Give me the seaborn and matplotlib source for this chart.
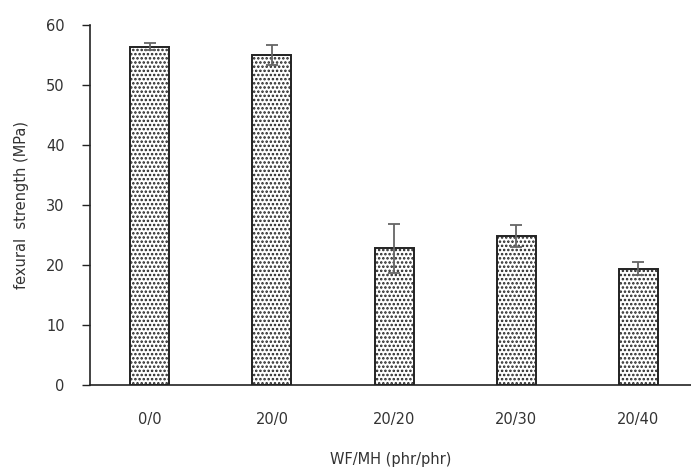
import matplotlib
matplotlib.use("Agg")
import matplotlib.pyplot as plt
import seaborn as sns
import pandas as pd

# data
ratios = ["0/0", "20/0", "20/20", "20/30", "20/40"]
strength = [56.4, 55.0, 22.8, 24.8, 19.4]
strength_err = [0.6, 1.6, 4.1, 1.8, 1.1]

df = pd.DataFrame({"ratio": ratios, "strength": strength})

sns.set_style("white")
plt.rcParams["font.family"] = ["DejaVu Sans"]
plt.rcParams["hatch.color"] = "#333333"
plt.rcParams["hatch.linewidth"] = 1.2

fig = plt.figure(figsize=(6.91, 4.72), dpi=100)
ax = fig.add_axes([0.130, 0.184, 0.870, 0.763])

sns.barplot(data=df, x="ratio", y="strength", color="white", width=0.32,
            edgecolor="#222222", linewidth=1.4, errorbar=None, ax=ax)
for p in ax.patches:
    p.set_hatch("....")

centers = [p.get_x() + p.get_width() / 2 for p in ax.patches]
ax.errorbar(centers, strength, yerr=strength_err, fmt="none",
            ecolor="#666666", elinewidth=1.3, capsize=4, capthick=1.3)

ax.set_xlim(-0.49, 4.43)
ax.set_ylim(0, 60)
ax.set_yticks(range(0, 61, 10))
ax.set_xlabel("WF/MH (phr/phr)", fontsize=10.5, color="#333333", labelpad=18)
ax.set_ylabel("fexural  strength (MPa)", fontsize=10.5, color="#333333", labelpad=12)

for s in ["top", "right"]:
    ax.spines[s].set_visible(False)
for s in ["left", "bottom"]:
    ax.spines[s].set_color("#222222")
    ax.spines[s].set_linewidth(1.2)

ax.tick_params(axis="y", left=True, length=6, width=1.0, color="#222222",
               labelsize=10.5, labelcolor="#333333", pad=12)
ax.tick_params(axis="x", bottom=False, labelsize=10.5, labelcolor="#333333", pad=16)

fig.savefig("out.png", dpi=100)
